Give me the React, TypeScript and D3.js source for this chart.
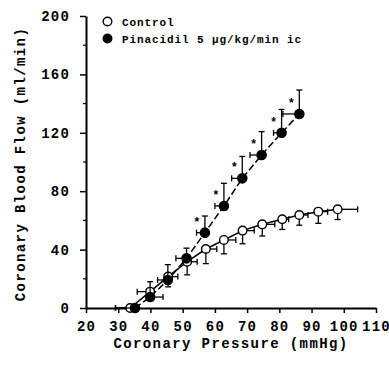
import React, { useEffect, useRef } from 'react';
import * as d3 from 'd3';

// Control (open circles)
const controlPressure = [33.7, 39.9, 45.5, 51.4, 57.2, 62.8, 68.6, 74.7, 80.9, 86.2, 92.1, 98.1];
const controlFlow = [0, 11.2, 21.5, 31.7, 40.4, 46.6, 53.0, 57.3, 60.8, 63.7, 66.0, 67.6];
const controlFlowErr = [0, 5, 7, 9, 10, 9.5, 9, 8, 7, 7, 8, 7];
const controlPressErrLeft = [4.6, 4, 0, 0, 0, 0, 0, 0, 0, 0, 0, 0];
const controlPressErrRight = [0, 0, 3, 3.1, 3.4, 3.7, 3.6, 3.9, 2, 2.7, 2.9, 6.2];

// Pinacidil 5 ug/kg/min ic (filled circles)
const pinaPressure = [35.2, 39.9, 45.4, 51.2, 56.9, 62.8, 68.5, 74.5, 80.7, 86.2];
const pinaFlow = [0, 7.5, 19.2, 34, 51.6, 69.9, 88.8, 104.8, 120, 132.9];
const pinaFlowErr = [0, 10.5, 10.5, 7, 11.4, 15.5, 15, 16, 16, 16.4];
const pinaPressErrLeft = [6, 0, 3.2, 3.3, 2.6, 2.8, 3.3, 3.6, 2.5, 5.1];
const pinaPressErrRight = [0, 4, 0, 0, 0, 0, 0, 0, 0, 0];
const pinaSignificant = [false, false, false, false, true, true, true, true, true, true];

const xTicks = [20, 30, 40, 50, 60, 70, 80, 90, 100, 110];
const yTicks = [0, 40, 80, 120, 160, 200];
const yMinorTicks = [20, 60, 100, 140, 180];

const legendLabels = ['Control', 'Pinacidil 5 \u03bcg/kg/min ic'];

const font = '"Liberation Mono", "DejaVu Sans Mono", monospace';

function App() {
    const svgRef = useRef(null);
    const width = 389;
    const height = 370;

    useEffect(() => {
        const svg = d3.select(svgRef.current);
        svg.selectAll('*').remove();

        const x = d3.scaleLinear().domain([20, 110]).range([86, 376]);
        const y = d3.scaleLinear().domain([0, 200]).range([308, 16]);

        // axes
        const xAxis = d3.axisBottom(x).tickValues(xTicks).tickSize(5).tickSizeOuter(0).tickPadding(8);
        const gx = svg.append('g').attr('transform', 'translate(0,308)').call(xAxis);
        gx.select('.domain').attr('stroke-width', 2);
        gx.selectAll('.tick line').attr('stroke-width', 1.5);
        gx.selectAll('.tick text')
            .attr('font-family', font).attr('font-size', 14).attr('font-weight', 'bold')
            .attr('letter-spacing', 1.2).attr('fill', '#000');

        const yAxis = d3.axisLeft(y).tickValues(yTicks).tickSize(6).tickSizeOuter(0).tickPadding(10);
        const gy = svg.append('g').attr('transform', 'translate(86,0)').call(yAxis);
        gy.select('.domain').attr('stroke-width', 2);
        gy.selectAll('.tick line').attr('stroke-width', 1.5);
        gy.selectAll('.tick text')
            .attr('font-family', font).attr('font-size', 14).attr('font-weight', 'bold')
            .attr('letter-spacing', 1.2).attr('fill', '#000');

        svg.append('g').selectAll('line').data(yMinorTicks).enter().append('line')
            .attr('x1', 83).attr('x2', 86)
            .attr('y1', d => y(d)).attr('y2', d => y(d))
            .attr('stroke', '#000').attr('stroke-width', 1.2);

        // axis titles
        svg.append('text')
            .attr('x', 231).attr('y', 348)
            .attr('text-anchor', 'middle')
            .attr('font-family', font).attr('font-size', 14).attr('font-weight', 'bold')
            .attr('letter-spacing', 1.4)
            .text('Coronary Pressure (mmHg)');

        svg.append('text')
            .attr('transform', 'translate(25,164) rotate(-90)')
            .attr('text-anchor', 'middle')
            .attr('font-family', font).attr('font-size', 14).attr('font-weight', 'bold')
            .attr('letter-spacing', 1.4)
            .text('Coronary Blood Flow (ml/min)');

        const cap = 3;

        function drawSeries(px, fy, yErr, yDir, xErrL, xErrR, filled, dash) {
            const g = svg.append('g');
            const pts = px.map((d, i) => [d, fy[i]]);
            const line = d3.line().x(d => x(d[0])).y(d => y(d[1]));
            g.append('path')
                .attr('d', line(pts))
                .attr('fill', 'none')
                .attr('stroke', '#000')
                .attr('stroke-width', 1.5)
                .attr('stroke-dasharray', dash);

            const eb = g.append('g').attr('stroke', '#000').attr('stroke-width', 1.3);
            pts.forEach((p, i) => {
                const cx = x(p[0]);
                const cy = y(p[1]);
                if (yErr[i] > 0) {
                    const ey = y(p[1] + yDir * yErr[i]);
                    eb.append('line').attr('x1', cx).attr('x2', cx).attr('y1', cy).attr('y2', ey);
                    eb.append('line').attr('x1', cx - cap).attr('x2', cx + cap).attr('y1', ey).attr('y2', ey);
                }
                if (xErrL[i] > 0) {
                    const ex = x(p[0] - xErrL[i]);
                    eb.append('line').attr('x1', cx).attr('x2', ex).attr('y1', cy).attr('y2', cy);
                    eb.append('line').attr('x1', ex).attr('x2', ex).attr('y1', cy - cap).attr('y2', cy + cap);
                }
                if (xErrR[i] > 0) {
                    const ex = x(p[0] + xErrR[i]);
                    eb.append('line').attr('x1', cx).attr('x2', ex).attr('y1', cy).attr('y2', cy);
                    eb.append('line').attr('x1', ex).attr('x2', ex).attr('y1', cy - cap).attr('y2', cy + cap);
                }
            });

            g.selectAll('circle').data(pts).enter().append('circle')
                .attr('cx', d => x(d[0]))
                .attr('cy', d => y(d[1]))
                .attr('r', filled ? 4.6 : 4.3)
                .attr('fill', filled ? '#000' : '#fff')
                .attr('stroke', '#000')
                .attr('stroke-width', 1.4);
        }

        drawSeries(controlPressure, controlFlow, controlFlowErr, -1,
            controlPressErrLeft, controlPressErrRight, false, null);
        drawSeries(pinaPressure, pinaFlow, pinaFlowErr, 1,
            pinaPressErrLeft, pinaPressErrRight, true, '7,3');

        // significance marks
        svg.append('g').selectAll('text')
            .data(pinaPressure.map((d, i) => [d, pinaFlow[i], pinaSignificant[i]]).filter(d => d[2]))
            .enter().append('text')
            .attr('x', d => x(d[0]) - 8)
            .attr('y', d => y(d[1]) - 7)
            .attr('text-anchor', 'middle')
            .attr('font-family', font).attr('font-size', 12).attr('font-weight', 'bold')
            .text('*');

        // legend
        const legend = svg.append('g');
        legendLabels.forEach((label, i) => {
            const ly = 21.5 + i * 17;
            legend.append('circle')
                .attr('cx', 107.5).attr('cy', ly).attr('r', 4.3)
                .attr('fill', i === 0 ? '#fff' : '#000')
                .attr('stroke', '#000').attr('stroke-width', 1.4);
            legend.append('text')
                .attr('x', 122).attr('y', ly + 4)
                .attr('font-family', font).attr('font-size', 11).attr('font-weight', 'bold')
                .attr('letter-spacing', 0.9)
                .text(label);
        });
    }, []);

    return (
        <svg ref={svgRef} width={width} height={height}
            style={{ position: 'absolute', left: 0, top: 0, background: '#fff' }} />
    );
}

export default App;
